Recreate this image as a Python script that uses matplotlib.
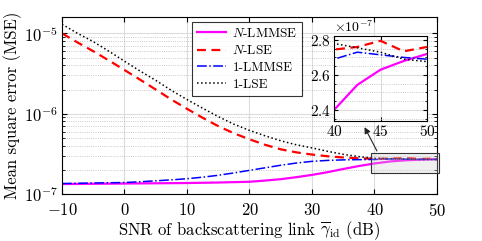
import matplotlib
matplotlib.use("Agg")
import matplotlib.pyplot as plt
import matplotlib.patches as patches
from matplotlib.ticker import MultipleLocator, ScalarFormatter
import numpy as np

plt.rcParams['font.family'] = 'serif'
plt.rcParams['font.serif'] = ['cmr10']
plt.rcParams['mathtext.fontset'] = 'cm'
plt.rcParams['axes.unicode_minus'] = False
plt.rcParams['axes.formatter.use_mathtext'] = True

# SNR grid (dB)
snr = [-10, -7.5, -5, -2.5, 0, 2.5, 5, 7.5, 10, 12.5, 15, 17.5, 20,
       22.5, 25, 27.5, 30, 32.5, 35, 37.5, 40, 42.5, 45, 47.5, 50]

n_lmmse = [1.33e-7, 1.335e-7, 1.34e-7, 1.345e-7, 1.35e-7, 1.355e-7, 1.36e-7, 1.365e-7,
           1.37e-7, 1.38e-7, 1.39e-7, 1.405e-7, 1.42e-7, 1.47e-7, 1.53e-7, 1.62e-7,
           1.73e-7, 1.87e-7, 2.05e-7, 2.23e-7, 2.40e-7, 2.543e-7, 2.63e-7, 2.68e-7, 2.72e-7]
n_lse = [1.0e-5, 7.7e-6, 6.0e-6, 4.6e-6, 3.5e-6, 2.65e-6, 2.0e-6, 1.5e-6,
         1.15e-6, 8.9e-7, 7.0e-7, 5.7e-7, 4.8e-7, 4.1e-7, 3.6e-7, 3.3e-7,
         3.1e-7, 2.95e-7, 2.85e-7, 2.78e-7, 2.745e-7, 2.76e-7, 2.795e-7, 2.735e-7, 2.76e-7]
one_lmmse = [1.35e-7, 1.36e-7, 1.37e-7, 1.38e-7, 1.39e-7, 1.42e-7, 1.46e-7, 1.50e-7,
             1.55e-7, 1.62e-7, 1.71e-7, 1.83e-7, 1.97e-7, 2.12e-7, 2.28e-7, 2.43e-7,
             2.55e-7, 2.62e-7, 2.66e-7, 2.68e-7, 2.69e-7, 2.73e-7, 2.715e-7, 2.70e-7, 2.69e-7]
one_lse = [1.3e-5, 1.0e-5, 7.9e-6, 6.0e-6, 4.5e-6, 3.4e-6, 2.6e-6, 1.95e-6,
           1.5e-6, 1.17e-6, 9.2e-7, 7.4e-7, 6.2e-7, 5.3e-7, 4.6e-7, 4.1e-7,
           3.75e-7, 3.4e-7, 3.12e-7, 2.92e-7, 2.78e-7, 2.755e-7, 2.73e-7, 2.69e-7, 2.676e-7]

labels = ['$N$-LMMSE', '$N$-LSE', '1-LMMSE', '1-LSE']
series = [n_lmmse, n_lse, one_lmmse, one_lse]
styles = [dict(color='#ff00ff', ls='-', lw=1.6),
          dict(color='#ff0000', ls=(0, (4, 2.5)), lw=1.6),
          dict(color='#0000ff', ls='-.', lw=1.1),
          dict(color='black', ls=':', lw=1.1)]

fig = plt.figure(figsize=(4.82, 2.41), dpi=100)
ax = fig.add_axes([0.1286, 0.195, 0.778, 0.7345])

for y, lab, st in zip(series, labels, styles):
    ax.plot(snr, y, label=lab, **st)

ax.set_yscale('log')
ax.set_xlim(-10, 50)
ax.set_ylim(1e-7, 1.6e-5)
ax.xaxis.set_major_locator(MultipleLocator(10))
ax.grid(True, which='major', color='#dcdcdc', lw=0.8, ls='-')
ax.grid(True, which='minor', axis='y', color='#b8b8b8', lw=0.6, ls=':')
ax.tick_params(which='both', direction='in', top=True, right=True, labelsize=12)
ax.tick_params(axis='x', pad=6)
ax.tick_params(axis='y', pad=3)
ax.tick_params(which='major', length=3.5)
ax.tick_params(which='minor', length=2)
for s in ax.spines.values():
    s.set_linewidth(0.8)
ax.set_xlabel(r'SNR of backscattering link $\overline{\gamma}_{\rm id}$ (dB)', fontsize=12, labelpad=0)
ax.set_ylabel('Mean square error (MSE)', fontsize=12, labelpad=1)

leg = ax.legend(loc='upper left', bbox_to_anchor=(0.347, 0.972), borderaxespad=0,
                fontsize=9.5, frameon=True, fancybox=False, handlelength=2.2,
                labelspacing=0.35, borderpad=0.35, handletextpad=0.5)
leg.get_frame().set_edgecolor('black')
leg.get_frame().set_linewidth(0.8)

# zoom box and arrow
rect = patches.Rectangle((39.5, 1.85e-7), 10.8, 1.35e-7, facecolor='#d0d0d0', alpha=0.3,
                         edgecolor='none', clip_on=False, zorder=4)
ax.add_patch(rect)
rect2 = patches.Rectangle((39.5, 1.85e-7), 10.8, 1.35e-7, facecolor='none',
                          edgecolor='#333333', lw=0.8, clip_on=False, zorder=5)
ax.add_patch(rect2)
ax.annotate('', xy=(38.2, 7.3e-7), xytext=(40.6, 3.2e-7),
            arrowprops=dict(arrowstyle='-|>', color='#222222', lw=0.8, mutation_scale=9))

# inset
ins = fig.add_axes([0.693, 0.498, 0.193, 0.353])
for y, st in zip(series, styles):
    ins.plot(snr, y, **st)
ins.set_xlim(40, 50)
ins.set_ylim(2.337e-7, 2.823e-7)
ins.xaxis.set_major_locator(MultipleLocator(5))
ins.yaxis.set_major_locator(MultipleLocator(0.2e-7))
ins.yaxis.set_minor_locator(MultipleLocator(0.05e-7))
fmt = ScalarFormatter(useMathText=True)
fmt.set_powerlimits((0, 0))
ins.yaxis.set_major_formatter(fmt)
ins.yaxis.get_offset_text().set_fontsize(10)
ins.grid(True, which='major', color='#dcdcdc', lw=0.8, ls='-')
ins.grid(True, which='minor', axis='y', color='#b8b8b8', lw=0.6, ls=':')
ins.tick_params(which='both', direction='in', top=True, right=True, labelsize=11, pad=2)
ins.tick_params(which='major', length=3)
ins.tick_params(which='minor', length=1.5)
for s in ins.spines.values():
    s.set_linewidth(0.8)

fig.savefig('out.png', dpi=100)
